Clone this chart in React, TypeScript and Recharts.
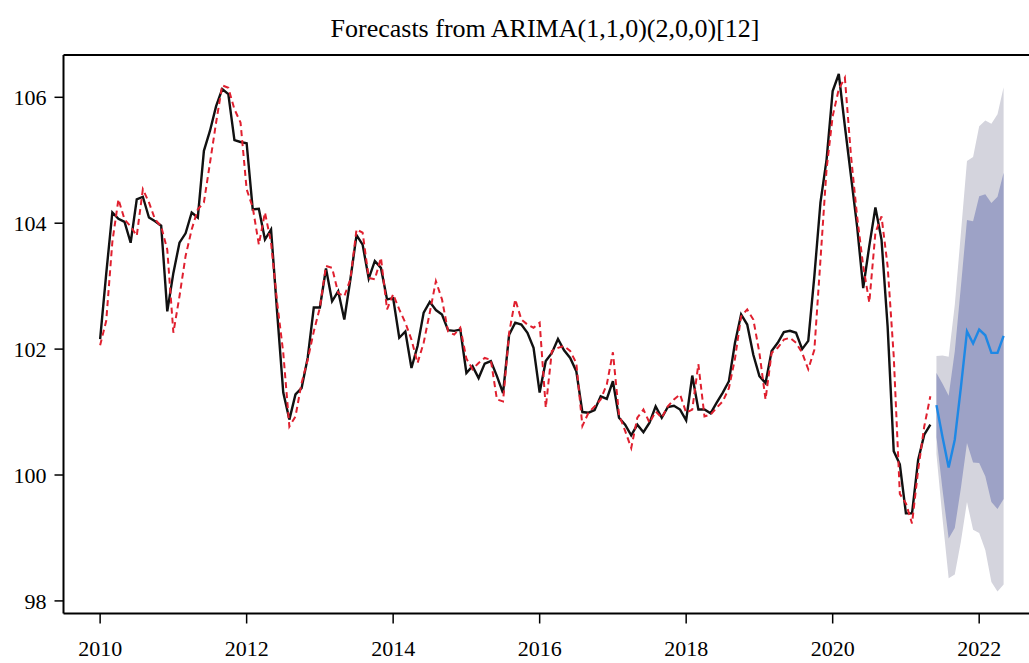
import { ComposedChart, Line, Area, XAxis, YAxis, ReferenceLine } from 'recharts';

// monthly index, observed from Jan 2010 to May 2021
const START_YEAR = 2010;

const actual = [
  102.16, 103.2, 104.17, 104.07, 104.02, 103.69, 104.38, 104.42, 104.09, 104.03, 103.96, 102.6,
  103.21, 103.69, 103.84, 104.17, 104.09, 105.15, 105.47, 105.86, 106.13, 106.05, 105.32, 105.29,
  105.27, 104.22, 104.23, 103.74, 103.9, 102.58, 101.31, 100.88, 101.28, 101.38, 101.86, 102.66,
  102.66, 103.28, 102.76, 102.92, 102.47, 103.11, 103.81, 103.66, 103.12, 103.4, 103.29, 102.79,
  102.81, 102.18, 102.28, 101.7, 102.05, 102.58, 102.75, 102.62, 102.55, 102.3, 102.29, 102.31,
  101.62, 101.73, 101.54, 101.77, 101.81, 101.57, 101.3, 102.23, 102.42, 102.39, 102.26, 102.02,
  101.31, 101.81, 101.94, 102.16, 101.98, 101.86, 101.65, 101.0, 100.99, 101.03, 101.25, 101.21,
  101.49, 100.91, 100.8, 100.63, 100.8, 100.68, 100.83, 101.09, 100.91, 101.08, 101.1, 101.04,
  100.87, 101.58, 101.04, 101.04, 100.98, 101.15, 101.31, 101.49, 102.1, 102.55, 102.39, 101.91,
  101.57, 101.46, 101.97, 102.1, 102.27, 102.29, 102.26, 102.0, 102.13, 103.16, 104.33, 105.01,
  106.1, 106.37, 105.54, 104.75, 103.95, 102.97, 103.64, 104.25, 103.74, 102.36, 100.38, 100.17,
  99.39, 99.39, 100.24, 100.64, 100.8,
];

// in-sample fitted values of the model
const fitted = [
  102.06, 102.45, 103.7, 104.38, 104.06, 103.95, 103.8, 104.54, 104.33, 104.06, 103.95, 103.58,
  102.26, 102.84, 103.48, 103.9, 104.22, 104.33, 104.96, 105.6, 106.19, 106.15, 105.81, 105.6,
  104.54, 104.25, 103.66, 104.17, 103.69, 102.74, 101.94, 100.77, 100.93, 101.46, 101.83, 102.28,
  102.66, 103.32, 103.29, 102.89, 102.84, 103.11, 103.9, 103.85, 103.13, 103.11, 103.45, 102.63,
  102.87, 102.63, 102.42, 102.15, 101.78, 102.1, 102.58, 103.08, 102.79, 102.28, 102.23, 102.34,
  101.85, 101.68, 101.78, 101.86, 101.83, 101.2, 101.17, 102.26, 102.79, 102.47, 102.39, 102.34,
  102.42, 101.07, 101.97, 102.02, 102.05, 101.97, 101.78, 100.78, 100.99, 101.09, 101.2, 101.44,
  101.95, 100.96, 100.7, 100.43, 100.91, 101.04, 100.83, 101.01, 100.91, 101.09, 101.2, 101.28,
  100.99, 101.04, 101.76, 100.93, 100.96, 101.07, 101.17, 101.38, 101.85, 102.52, 102.63, 102.47,
  101.94, 101.2, 101.94, 102.02, 102.15, 102.18, 102.1, 101.94, 101.68, 101.99, 103.42, 104.86,
  105.7, 106.13, 106.31, 105.07, 104.11, 103.32, 102.74, 103.85, 104.11, 103.32, 101.89, 99.7,
  99.55, 99.23, 100.08, 100.77, 101.25,
];

// 12-step forecast, Jun 2021 to May 2022
const forecastMean = [101.11, 100.6, 100.12, 100.56, 101.39, 102.28, 102.09, 102.31, 102.22, 101.94, 101.94, 102.21];
const lo80 = [100.6, 99.76, 98.99, 99.16, 99.79, 100.51, 100.2, 100.19, 99.98, 99.57, 99.46, 99.62];
const hi80 = [101.62, 101.45, 101.26, 101.96, 102.99, 104.05, 104.03, 104.43, 104.46, 104.32, 104.42, 104.8];
const lo95 = [100.33, 99.3, 98.36, 98.42, 98.94, 99.57, 99.13, 99.08, 98.81, 98.3, 98.15, 98.26];
const hi95 = [101.89, 101.9, 101.88, 102.7, 103.84, 104.99, 105.05, 105.54, 105.63, 105.58, 105.73, 106.16];

const xTicks = [2010, 2012, 2014, 2016, 2018, 2020, 2022];
const yTicks = [98, 100, 102, 104, 106];

const X_DOMAIN: [number, number] = [2009.5, 2022.68];
const Y_MIN = 97.8;
const Y_MAX = 106.672;

const FONT = "'Liberation Serif', 'Times New Roman', serif";

const rows = Array.from({ length: actual.length + forecastMean.length }, (_, i) => {
  const j = i - actual.length;
  const inForecast = j >= 0;
  return {
    t: START_YEAR + i / 12,
    actual: inForecast ? undefined : actual[i],
    fitted: inForecast ? undefined : fitted[i],
    mean: inForecast ? forecastMean[j] : undefined,
    band80: inForecast ? [lo80[j], hi80[j]] : undefined,
    band95: inForecast ? [lo95[j], hi95[j]] : undefined,
  };
});

const tickStyle = { fill: '#000', fontSize: 22, fontFamily: FONT };

export default function App() {
  return (
    <div style={{ position: 'absolute', left: 0, top: 0, width: 1029, height: 663, background: '#fff', overflow: 'hidden' }}>
      <div
        style={{
          position: 'absolute',
          top: 16,
          left: 0,
          width: 1090,
          textAlign: 'center',
          fontFamily: FONT,
          fontSize: 26,
          lineHeight: '26px',
          color: '#000',
        }}
      >
        Forecasts from ARIMA(1,1,0)(2,0,0)[12]
      </div>
      <ComposedChart
        width={1029}
        height={663}
        data={rows}
        margin={{ top: 55, right: 0, bottom: 19.5, left: 3.5 }}
      >
        <XAxis
          dataKey="t"
          type="number"
          domain={X_DOMAIN}
          ticks={xTicks}
          allowDataOverflow
          height={30}
          tickSize={10}
          tickMargin={17}
          tick={tickStyle}
          axisLine={{ stroke: '#000', strokeWidth: 2 }}
          tickLine={{ stroke: '#000', strokeWidth: 1.5 }}
        />
        <YAxis
          type="number"
          domain={[Y_MIN, Y_MAX]}
          ticks={yTicks}
          allowDataOverflow
          width={60}
          tickSize={9}
          tickMargin={8}
          tick={tickStyle}
          axisLine={{ stroke: '#000', strokeWidth: 2 }}
          tickLine={{ stroke: '#000', strokeWidth: 1.5 }}
        />
        <ReferenceLine y={Y_MAX} stroke="#000" strokeWidth={2} />
        <Area
          dataKey="band95"
          type="linear"
          fill="#d4d4dd"
          fillOpacity={1}
          stroke="none"
          isAnimationActive={false}
        />
        <Area
          dataKey="band80"
          type="linear"
          fill="#9da2c6"
          fillOpacity={1}
          stroke="none"
          isAnimationActive={false}
        />
        <Line
          dataKey="actual"
          type="linear"
          stroke="#111"
          strokeWidth={2.4}
          dot={false}
          isAnimationActive={false}
        />
        <Line
          dataKey="fitted"
          type="linear"
          stroke="#e0202f"
          strokeWidth={2}
          strokeDasharray="6 4"
          dot={false}
          isAnimationActive={false}
        />
        <Line
          dataKey="mean"
          type="linear"
          stroke="#1e88e5"
          strokeWidth={2.4}
          dot={false}
          isAnimationActive={false}
        />
      </ComposedChart>
    </div>
  );
}
